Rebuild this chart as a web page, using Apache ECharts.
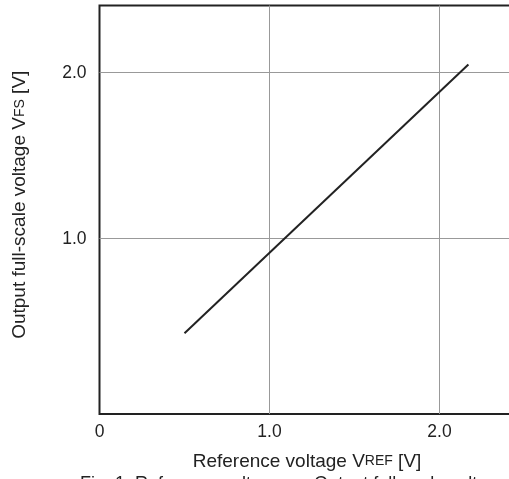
<!DOCTYPE html>
<html>
<head>
<meta charset="utf-8">
<script src="https://cdn.jsdelivr.net/npm/echarts@6/dist/echarts.min.js"></script>
<style>
html,body{margin:0;padding:0;background:#fff;}
#c{width:509px;height:479px;}
</style>
</head>
<body>
<div id="c"></div>
<script>
// Data
var vref = [0.5, 2.17];          // Reference voltage VREF [V]
var vfs = [0.43, 2.05];          // Output full-scale voltage VFS [V]
var xTicks = [0, 1.0, 2.0];
var xGrid = [1.0, 2.0];
var yTicks = [1.0, 2.0];
var xTitle = 'Reference voltage V{s|REF} [V]';
var yTitle = 'Output full-scale voltage V{s|FS} [V]';
var caption = 'Fig. 1  Reference voltage vs. Output full-scale voltage';

var FONT = 'Liberation Sans, Arial, sans-serif';
var chart = echarts.init(document.getElementById('c'));
chart.setOption({
  animation: false,
  backgroundColor: '#fff',
  title: {
    text: caption,
    left: 75, top: 470,
    textStyle: {fontFamily: FONT, fontSize: 18, fontWeight: 'normal', color: '#222'}
  },
  grid: {
    left: 99.5, top: 5.5, bottom: 65, width: 425,
    outerBoundsMode: 'none',
    show: true, borderColor: '#222', borderWidth: 2, backgroundColor: 'transparent',
    containLabel: false
  },
  xAxis: {
    type: 'value', min: 0, max: 2.5, interval: 1,
    axisLine: {show: false}, axisTick: {show: false},
    splitLine: {show: false},
    axisLabel: {
      customValues: xTicks,
      margin: 9, color: '#222', fontFamily: FONT, fontSize: 17.5,
      formatter: function (v) { return v === 0 ? '0' : v.toFixed(1); }
    },
    name: xTitle, nameLocation: 'middle', nameGap: 38,
    nameTextStyle: {
      fontFamily: FONT, fontSize: 19, color: '#222', padding: [0, 10, 0, 0],
      rich: {s: {fontFamily: FONT, fontSize: 14, color: '#222'}}
    }
  },
  yAxis: {
    type: 'value', min: -0.056, max: 2.405,
    axisLine: {show: false}, axisTick: {show: false, customValues: yTicks},
    splitLine: {show: false},
    axisLabel: {
      customValues: yTicks,
      margin: 13, color: '#222', fontFamily: FONT, fontSize: 17.5,
      formatter: function (v) { return v.toFixed(1); }
    },
    name: yTitle, nameLocation: 'middle', nameGap: 70,
    nameTextStyle: {
      fontFamily: FONT, fontSize: 19, color: '#222', padding: [0, 0, 0, 10],
      rich: {s: {fontFamily: FONT, fontSize: 14, color: '#222'}}
    }
  },
  series: [{
    type: 'line',
    data: vref.map(function (x, i) { return [x, vfs[i]]; }),
    symbol: 'none',
    z: 3,
    lineStyle: {color: '#222', width: 2},
    markLine: {
      silent: true, symbol: 'none', label: {show: false}, z: 1,
      lineStyle: {color: '#999', width: 1, type: 'solid'},
      data: yTicks.map(function (v) { return {yAxis: v}; })
        .concat(xGrid.map(function (v) { return {xAxis: v}; }))
    }
  }]
});
</script>
</body>
</html>
